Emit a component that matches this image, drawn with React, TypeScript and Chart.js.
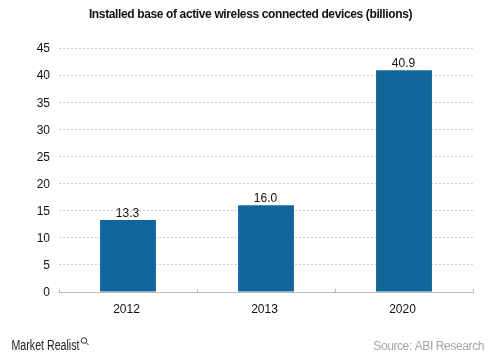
import React, { useEffect, useRef } from "react";
import { Chart, registerables } from "chart.js";

Chart.register(...registerables);

const titleText = "Installed base of active wireless connected devices (billions)";
const categories = ["2012", "2013", "2020"];
const values = [13.3, 16.0, 40.9];
const brandText = "Market Realist";
const sourceText = "Source: ABI Research";
const FONT = "'Liberation Sans', Arial, sans-serif";

const annotate = {
  id: "annotate",
  afterDatasetsDraw(chart: any) {
    const { ctx } = chart;
    const meta = chart.getDatasetMeta(0);
    ctx.save();
    ctx.fillStyle = "#111111";
    ctx.font = `12px ${FONT}`;
    ctx.textAlign = "center";
    ctx.textBaseline = "alphabetic";
    meta.data.forEach((bar: any, i: number) => {
      ctx.fillText(values[i].toFixed(1), bar.x - 0.5, bar.y - 3);
    });
    const xs = chart.scales.x;
    const yb = chart.scales.y.getPixelForValue(0);
    ctx.strokeStyle = "#b8b8b8";
    ctx.lineWidth = 1;
    const step = (xs.right - xs.left) / categories.length;
    for (let i = 0; i <= categories.length; i++) {
      const px = Math.round(xs.left + step * i) + 0.5;
      ctx.beginPath();
      ctx.moveTo(px, yb - 3);
      ctx.lineTo(px, yb + 0.5);
      ctx.stroke();
    }
    // condensed brand wordmark
    ctx.save();
    ctx.textAlign = "left";
    ctx.fillStyle = "#222222";
    ctx.font = `14px ${FONT}`;
    const w = ctx.measureText(brandText).width;
    ctx.translate(11.5, 350);
    ctx.scale(68 / w, 1);
    ctx.fillText(brandText, 0, 0);
    ctx.restore();
    ctx.strokeStyle = "#333333";
    ctx.lineWidth = 1;
    ctx.beginPath();
    ctx.arc(84, 340.5, 2.8, 0, Math.PI * 2);
    ctx.moveTo(86, 342.5);
    ctx.lineTo(88.5, 345);
    ctx.stroke();
    ctx.textAlign = "right";
    ctx.fillStyle = "#a6a6a6";
    ctx.font = `12px ${FONT}`;
    (ctx as any).letterSpacing = "-0.4px";
    ctx.fillText(sourceText, 484, 350);
    ctx.restore();
  },
};

export default function App() {
  const ref = useRef<HTMLCanvasElement>(null);
  useEffect(() => {
    const chart = new Chart(ref.current!, {
      type: "bar",
      data: {
        labels: categories,
        datasets: [
          {
            data: values,
            backgroundColor: "#13669b",
            categoryPercentage: 1,
            barPercentage: 0.405,
          },
        ],
      },
      options: {
        animation: false,
        responsive: false,
        layout: { padding: { left: 0, right: 27, top: 48, bottom: 0 } },
        plugins: {
          legend: { display: false },
          tooltip: { enabled: false },
          title: { display: false },
        },
        scales: {
          x: {
            afterFit(s: any) {
              s.height = 65;
            },
            grid: { display: false, drawTicks: false },
            border: { color: "#b8b8b8", width: 1 },
            ticks: {
              color: "#111111",
              font: { family: FONT, size: 12 },
              padding: 10,
              labelOffset: -1.5,
              maxRotation: 0,
            },
          },
          y: {
            min: 0,
            max: 45,
            afterFit(s: any) {
              s.width = 59;
            },
            grid: {
              color: (c: any) => (c.tick.value === 0 ? "rgba(0,0,0,0)" : "#cccccc"),
              drawTicks: false,
            },
            border: { display: false, dash: [2, 2] },
            ticks: {
              stepSize: 5,
              color: "#111111",
              font: { family: FONT, size: 12 },
              padding: 9,
              labelOffset: 1,
            },
          },
        },
      },
      plugins: [
        annotate,
        {
          id: "heading",
          afterDraw(c: any) {
            const { ctx } = c;
            ctx.save();
            ctx.fillStyle = "#111111";
            ctx.font = `bold 12px ${FONT}`;
            (ctx as any).letterSpacing = "-0.37px";
            ctx.textAlign = "center";
            ctx.textBaseline = "alphabetic";
            ctx.fillText(titleText, 250.5, 18);
            ctx.restore();
          },
        },
      ],
    } as any);
    return () => chart.destroy();
  }, []);
  return (
    <canvas
      ref={ref}
      width={500}
      height={357}
      style={{ position: "absolute", left: 0, top: 0, display: "block", width: 500, height: 357 }}
    />
  );
}
